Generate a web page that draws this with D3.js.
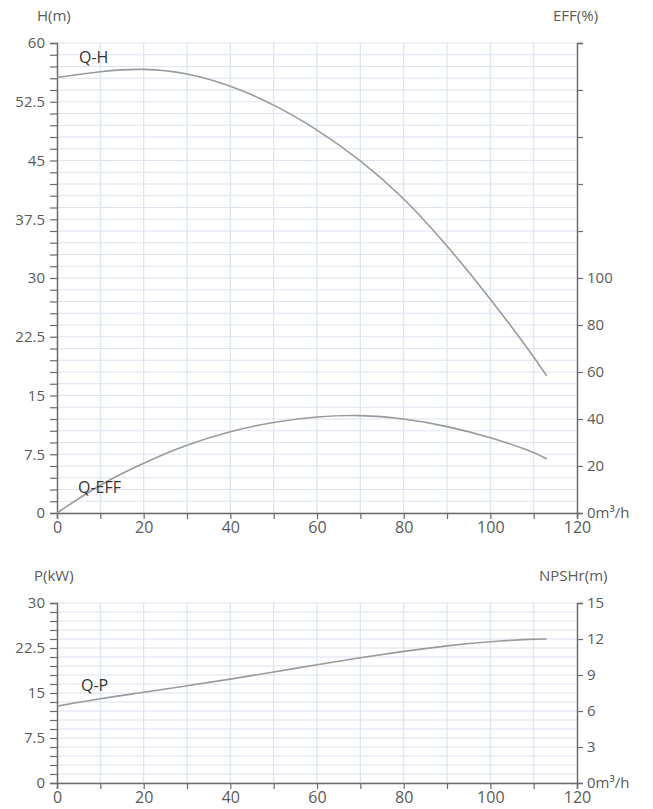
<!DOCTYPE html>
<html><head><meta charset="utf-8">
<script src="https://cdn.jsdelivr.net/npm/d3@7"></script>
<style>
body{margin:0;background:#fff;}
text{font-family:"Open Sans","Noto Sans",sans-serif;}
</style></head>
<body><svg id="c" width="653" height="809"></svg>
<script>
// Data
const flow = [0,10,20,30,40,50,60,70,80,90,100,110,113];
const head = [55.6,56.4,56.8,56.2,54.6,52.2,49.0,45.1,40.3,34.2,27.4,20.0,17.5];
const eff  = [0,12.4,21.4,29.2,34.9,38.8,41.1,41.8,40.3,37.0,32.3,26.0,23.0];
const power= [12.8,14.1,15.1,16.2,17.3,18.5,19.7,20.9,21.95,22.9,23.6,24.0,24.0];
const xTicks = [0,20,40,60,80,100,120];
const hTicks = [0,7.5,15,22.5,30,37.5,45,52.5,60];
const effTicks = [0,20,40,60,80,100,120,140,160,180,200];
const pTicks = [0,7.5,15,22.5,30];
const npshTicks = [0,3,6,9,12,15];

const svg = d3.select("#c");
const L = 57, R = 577;
const axisCol = "#6b6b6b", textCol = "#5a5a5a", gridCol = "#dbe4f0", curveCol = "#9a9a9a";

function panel(top, bottom, yDom, yMaj, yMinStep, y2Dom, y2Ticks, y2LabelMax, series, leftTitle, rightTitle, curveLabels) {
  const x = d3.scaleLinear().domain([0,120]).range([L,R]);
  const y = d3.scaleLinear().domain(yDom).range([bottom,top]);
  const y2 = d3.scaleLinear().domain(y2Dom).range([bottom,top]);
  const g = svg.append("g");
  const hGrid = d3.range(yDom[0], yDom[1]+0.001, yMinStep);
  g.append("g").selectAll("line").data(hGrid).join("line")
    .attr("x1",L).attr("x2",R).attr("y1",d=>y(d)).attr("y2",d=>y(d))
    .attr("stroke",gridCol).attr("stroke-width",1.2);
  g.append("g").selectAll("line").data(d3.range(10,120,10)).join("line")
    .attr("x1",d=>x(d)).attr("x2",d=>x(d)).attr("y1",top).attr("y2",bottom)
    .attr("stroke",gridCol).attr("stroke-width",1.2);
  const la = g.append("g").attr("transform",`translate(${L},0)`)
    .call(d3.axisLeft(y).tickValues(hGrid).tickSize(7).tickPadding(5)
      .tickFormat(d => yMaj.some(m=>Math.abs(m-d)<1e-6) ? d3.format("")(+d.toFixed(1)) : ""));
  const ba = g.append("g").attr("transform",`translate(0,${bottom})`)
    .call(d3.axisBottom(x).tickValues(d3.range(0,121,10)).tickSize(6).tickPadding(3)
      .tickFormat(d => xTicks.includes(d) ? d : ""));
  const ra = g.append("g").attr("transform",`translate(${R},0)`)
    .call(d3.axisRight(y2).tickValues(y2Ticks).tickSize(6).tickPadding(4)
      .tickFormat(d => d===0 ? "0m³/h" : (d<=y2LabelMax ? d : "")));
  [la,ba,ra].forEach(a=>{
    a.select(".domain").attr("stroke",axisCol).attr("stroke-width",1.5);
    a.selectAll(".tick line").attr("stroke",axisCol).attr("stroke-width",1.2);
    a.selectAll(".tick text").attr("fill",textCol).attr("font-size",15);
  });
  ba.selectAll(".tick text").attr("font-size",16);
  g.append("text").attr("x",leftTitle[1]).attr("y",leftTitle[2]).attr("fill",textCol)
    .attr("font-size",15).text(leftTitle[0]);
  g.append("text").attr("x",rightTitle[1]).attr("y",rightTitle[2]).attr("fill",textCol)
    .attr("font-size",15).text(rightTitle[0]);
  series.forEach(s=>{
    const sc = s.axis===2 ? y2 : y;
    g.append("path").datum(flow.map((q,i)=>[q,s.values[i]]))
      .attr("fill","none").attr("stroke",curveCol).attr("stroke-width",1.6)
      .attr("d", d3.line().x(d=>x(d[0])).y(d=>sc(d[1])).curve(d3.curveBasis));
  });
  curveLabels.forEach(c=>{
    g.append("text").attr("x",c[1]).attr("y",c[2]).attr("fill","#333")
      .attr("font-size",16).text(c[0]);
  });
}

panel(43, 513, [0,60], hTicks, 1.5, [0,200], effTicks, 100,
  [{values:head,axis:1},{values:eff,axis:2}],
  ["H(m)",37,21], ["EFF(%)",553,21],
  [["Q-H",79,63],["Q-EFF",78,493]]);

panel(603, 783, [0,30], pTicks, 1.5, [0,15], npshTicks, 15,
  [{values:power,axis:1}],
  ["P(kW)",34,581], ["NPSHr(m)",539,581],
  [["Q-P",81,691]]);
</script></body></html>
